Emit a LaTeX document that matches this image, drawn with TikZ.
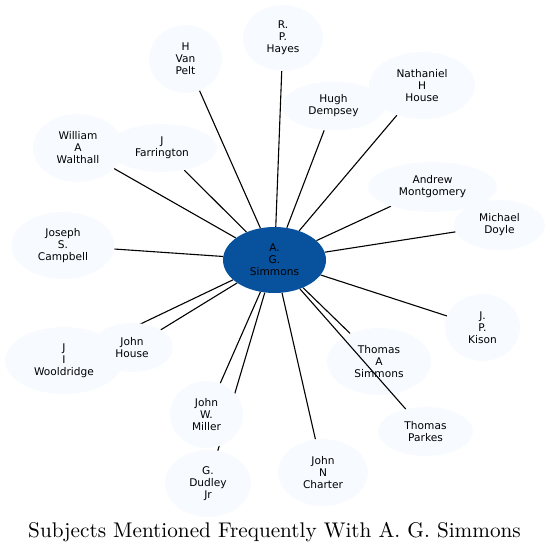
\documentclass[tikz,border=0pt]{standalone}
\usepackage{fontspec}
\usetikzlibrary{shapes.geometric,backgrounds}
\newfontfamily\dvsans{DejaVu Sans}
\definecolor{lightnode}{HTML}{F7FBFF}
\definecolor{darknode}{HTML}{08519C}
\begin{document}
\begin{tikzpicture}[x=1pt,y=-1pt,
  person/.style={ellipse, fill=lightnode, draw=none, inner sep=0pt, align=center,
    font=\dvsans\fontsize{10.6}{12}\selectfont},
  link/.style={draw=black, line width=1.1pt}]
\useasboundingbox (0,0) rectangle (550,553);
\node[person, fill=darknode, minimum width=103pt, minimum height=66pt] (c) at (274.5,260) {A.\\G.\\Simmons};
\node[person, minimum width=73pt, minimum height=68pt] (vanpelt) at (185.5,59) {H\\Van\\Pelt};
\node[person, minimum width=80pt, minimum height=66pt] (hayes) at (283,38) {R.\\P.\\Hayes};
\node[person, minimum width=103pt, minimum height=49pt] (dempsey) at (333.5,106) {Hugh\\Dempsey};
\node[person, minimum width=106pt, minimum height=67pt] (nhouse) at (422,85.5) {Nathaniel\\H\\House};
\node[person, minimum width=129pt, minimum height=50pt] (montgomery) at (432.5,187) {Andrew\\Montgomery};
\node[person, minimum width=91pt, minimum height=50pt] (doyle) at (499.5,225) {Michael\\Doyle};
\node[person, minimum width=75pt, minimum height=67pt] (kison) at (482.5,327.5) {J.\\P.\\Kison};
\node[person, minimum width=104pt, minimum height=67pt] (tasimmons) at (379,361.5) {Thomas\\A\\Simmons};
\node[person, minimum width=95pt, minimum height=49pt] (parkes) at (425.5,431.5) {Thomas\\Parkes};
\node[person, minimum width=90pt, minimum height=67pt] (charter) at (323,472.5) {John\\N\\Charter};
\node[person, minimum width=86pt, minimum height=67pt] (dudley) at (208,483.5) {G.\\Dudley\\Jr};
\node[person, minimum width=73pt, minimum height=67pt] (miller) at (206.5,414.5) {John\\W.\\Miller};
\node[person, minimum width=118pt, minimum height=67pt] (wooldridge) at (64,360.5) {J\\I\\Wooldridge};
\node[person, minimum width=82pt, minimum height=49pt] (jhouse) at (132,347.5) {John\\House};
\node[person, minimum width=103pt, minimum height=67pt] (campbell) at (63,245.5) {Joseph\\S.\\Campbell};
\node[person, minimum width=110pt, minimum height=48pt] (farrington) at (162,148) {J\\Farrington};
\node[person, minimum width=90pt, minimum height=68pt] (walthall) at (78,148) {William\\A\\Walthall};
\begin{scope}[on background layer]
\foreach \n in {vanpelt,hayes,dempsey,nhouse,montgomery,doyle,kison,tasimmons,charter,dudley,miller,wooldridge,jhouse,campbell,farrington,walthall}
  \draw[link] (c) -- (\n);
\end{scope}
\draw[link] (c) -- (parkes);
\node[anchor=base, inner sep=0pt, scale=2.12, font=\fontsize{10}{12}\selectfont] (title) at (274.5,537) {Subjects Mentioned Frequently With A. G. Simmons};
\end{tikzpicture}
\end{document}
